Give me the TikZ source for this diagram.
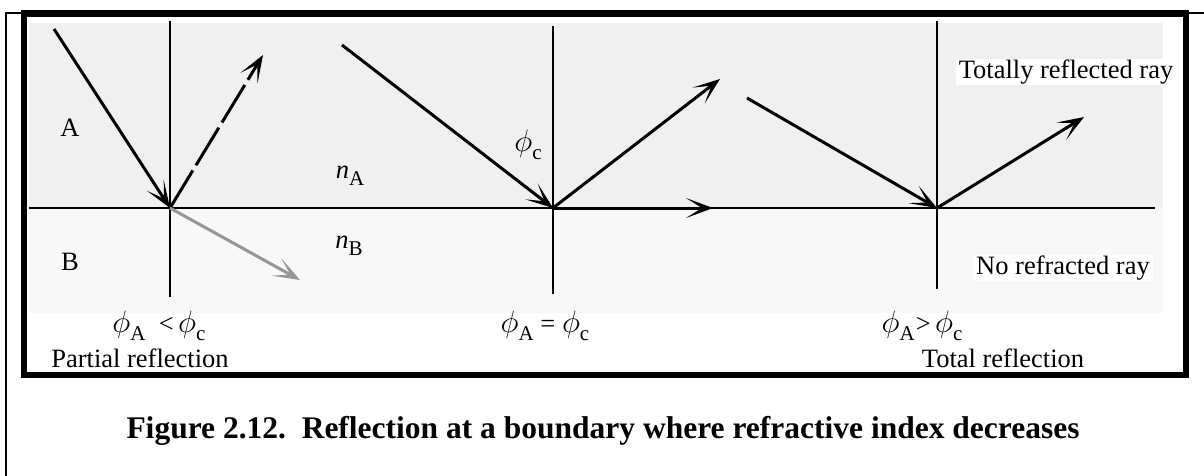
\documentclass[tikz,border=0pt]{standalone}
\usepackage{fix-cm}
\usepackage{fontspec}
\setmainfont{Liberation Serif}
\usetikzlibrary{arrows.meta,positioning}
\definecolor{mediumA}{RGB}{240,240,240}
\definecolor{mediumB}{RGB}{248,248,248}
\definecolor{refrgray}{RGB}{150,150,150}
\newcommand{\lowsub}[1]{\raisebox{-0.28em}{\fontsize{21}{22}\selectfont #1}}
\newcommand{\phig}{{\fontsize{31}{33}\selectfont$\phi$}}
\tikzset{
  label text/.style={
    font=\fontsize{26.5}{30}\selectfont,
    inner sep=0pt
  },
  white label/.style={
    label text,
    fill=white,
    inner xsep=3pt,
    inner ysep=0.5pt
  },
  normal line/.style={
    line width=2pt
  },
  ray/.style={
    line width=3pt,
    -{Stealth[length=27pt,width=20pt,inset=16pt]}
  },
  dashed ray/.style={
    ray,
    dash pattern=on 44pt off 6pt
  },
  refracted ray/.style={
    ray,
    draw=refrgray,
    -{Stealth[length=27pt,width=20pt,inset=16pt,refrgray]}
  }
}

\begin{document}
\begin{tikzpicture}[x=1pt,y=-1pt]
  \useasboundingbox (0,0) rectangle (1204,475);

  % Frames
  \draw[line width=2pt] (6,476) -- (6,13) -- (1205,13);
  \draw[line width=6.5pt] (24,13.5) rectangle (1186,375);

  % Media
  \fill[mediumA] (29,23) rectangle (1163,208);
  \fill[mediumB] (29,208) rectangle (1163,313);
  \draw[line width=2.5pt] (29,208) -- (1155,208);

  % Points of incidence
  \coordinate (O1) at (170,208);
  \coordinate (O2) at (553,208);
  \coordinate (O3) at (937,208);

  % Normals
  \draw[normal line] (170,21) -- (170,297);
  \draw[normal line] (553,26) -- (553,294);
  \draw[normal line] (937,21) -- (937,289);

  % Partial reflection
  \coordinate (in1) at (54,29);
  \coordinate (rf1) at (263,55);
  \coordinate (tr1) at (300,280);
  \draw[ray] (in1) -- (O1);
  \draw[dashed ray] (O1) -- (rf1);
  \draw[refracted ray] (O1) -- (tr1);

  % Critical angle
  \coordinate (in2) at (342,45);
  \coordinate (rf2) at (720,79);
  \coordinate (gr2) at (713,208);
  \draw[ray] (in2) -- (O2);
  \draw[ray] (O2) -- (rf2);
  \draw[ray] (O2) -- (gr2);

  % Total reflection
  \coordinate (in3) at (747,98);
  \coordinate (rf3) at (1084,117);
  \draw[ray] (in3) -- (O3);
  \draw[ray] (O3) -- (rf3);

  % Labels
  \node[label text] (medA) at (70,128) {A};
  \node[label text] (medB) at (70,262) {B};
  \node[label text] (nA) at (350,176) {\textit{n}\lowsub{A}};
  \node[label text] (nB) at (349,246) {\textit{n}\lowsub{B}};
  \node[label text] (phic) at (528,145) {\phig\lowsub{c}};
  \node[white label] (totray) at (1066,72) {Totally reflected ray};
  \node[white label] (noray) at (1063,268) {No refracted ray};

  \node[label text] (cond1) at (159,326) {\phig\lowsub{A}\ \ <\,\phig\lowsub{c}};
  \node[label text] (cond2) at (545,326) {\phig\lowsub{A}\ =\ \phig\lowsub{c}};
  \node[label text] (cond3) at (922,326) {\phig\lowsub{A}\kern1pt>\,\phig\lowsub{c}};
  \node[label text] (case1) at (140,358) {Partial reflection};
  \node[label text] (case3) at (1003,358) {Total reflection};

  % Caption
  \node[font=\fontsize{31.5}{34}\selectfont\bfseries, inner sep=0pt] (caption) at (603,431)
    {Figure 2.12.\ \ Reflection at a boundary where refractive index decreases};
\end{tikzpicture}
\end{document}
